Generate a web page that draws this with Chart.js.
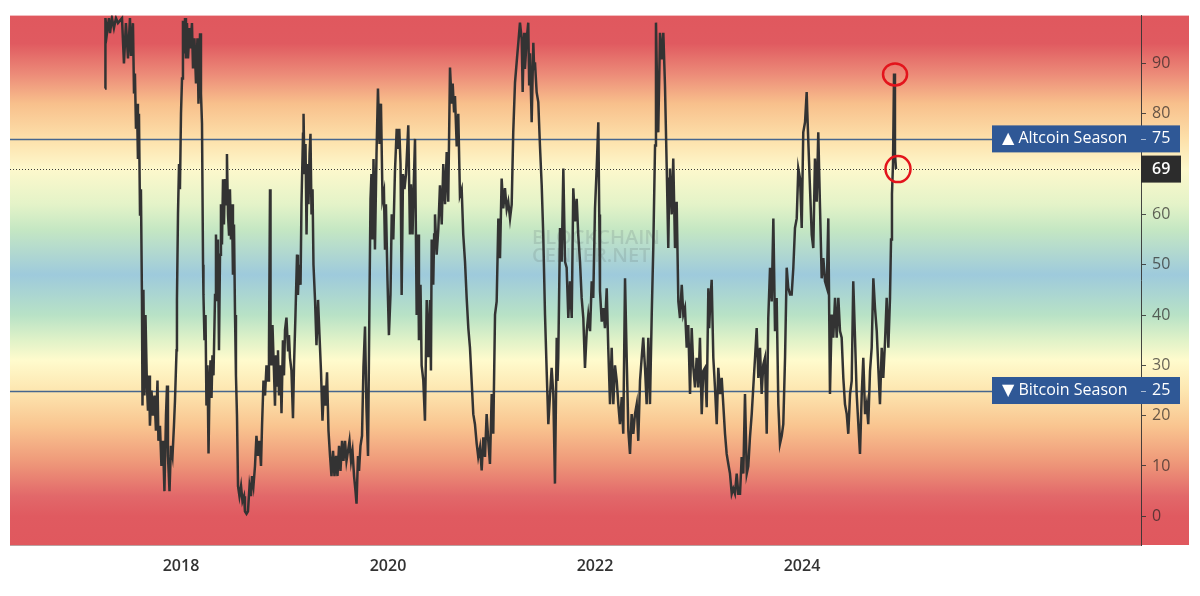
<!DOCTYPE html>
<html>
<head>
<meta charset="utf-8">
<script src="https://cdn.jsdelivr.net/npm/chart.js@4.4.0/dist/chart.umd.min.js"></script>
<style>
  html, body { margin: 0; padding: 0; background: #fff; }
  #wrap { width: 1200px; height: 596px; }
</style>
</head>
<body>
<div id="wrap"><canvas id="c" width="1200" height="596"></canvas></div>
<script>
// ---------------- DATA (decimal year, index value) ----------------
const dates2017_2019 = [
2017.266, 2017.270, 2017.285, 2017.304, 2017.314, 2017.333, 2017.352, 2017.372, 2017.391, 2017.430,
2017.449, 2017.468, 2017.488, 2017.507, 2017.517, 2017.536, 2017.546, 2017.555, 2017.565, 2017.575,
2017.584, 2017.594, 2017.604, 2017.613, 2017.623, 2017.628, 2017.637, 2017.647, 2017.657, 2017.671,
2017.681, 2017.691, 2017.700, 2017.715, 2017.729, 2017.744, 2017.758, 2017.773, 2017.782, 2017.797,
2017.811, 2017.826, 2017.840, 2017.855, 2017.865, 2017.874, 2017.889, 2017.903, 2017.918, 2017.932,
2017.942, 2017.957, 2017.961, 2017.971, 2017.981, 2017.990, 2018.000, 2018.010, 2018.019, 2018.029,
2018.039, 2018.048, 2018.058, 2018.068, 2018.082, 2018.092, 2018.106, 2018.116, 2018.130, 2018.145,
2018.159, 2018.169, 2018.184, 2018.193, 2018.203, 2018.213, 2018.217, 2018.227, 2018.237, 2018.246,
2018.256, 2018.266, 2018.275, 2018.285, 2018.295, 2018.304, 2018.314, 2018.329, 2018.338, 2018.348,
2018.357, 2018.367, 2018.377, 2018.386, 2018.396, 2018.406, 2018.415, 2018.425, 2018.435, 2018.444,
2018.454, 2018.464, 2018.473, 2018.483, 2018.493, 2018.502, 2018.512, 2018.522, 2018.531, 2018.541,
2018.551, 2018.565, 2018.580, 2018.594, 2018.609, 2018.618, 2018.633, 2018.647, 2018.662, 2018.676,
2018.686, 2018.700, 2018.715, 2018.729, 2018.744, 2018.758, 2018.773, 2018.783, 2018.797, 2018.812,
2018.826, 2018.841, 2018.850, 2018.860, 2018.865, 2018.874, 2018.884, 2018.898, 2018.908, 2018.918,
2018.928, 2018.937, 2018.947, 2018.961, 2018.971, 2018.985, 2018.995, 2019.005, 2019.019, 2019.034,
2019.043, 2019.053, 2019.067, 2019.082, 2019.092, 2019.106, 2019.121, 2019.130, 2019.140, 2019.155,
2019.164, 2019.179, 2019.184, 2019.193, 2019.203, 2019.213, 2019.222, 2019.232, 2019.242, 2019.251,
2019.261, 2019.271, 2019.280, 2019.295, 2019.309, 2019.324, 2019.338, 2019.353, 2019.367, 2019.382,
2019.396, 2019.411, 2019.425, 2019.440, 2019.454, 2019.469, 2019.483, 2019.498, 2019.512, 2019.527,
2019.541, 2019.556, 2019.570, 2019.585, 2019.599, 2019.614, 2019.628, 2019.643, 2019.657, 2019.672,
2019.686, 2019.696, 2019.710, 2019.720, 2019.734, 2019.749, 2019.763, 2019.778, 2019.792, 2019.807,
2019.821, 2019.831, 2019.840, 2019.850, 2019.860, 2019.874, 2019.889, 2019.903, 2019.918, 2019.932,
2019.947
];
const values2017_2019 = [
85, 99, 96, 99, 96, 99, 97, 99, 98, 99,
90, 98, 91, 99, 91.5, 98, 84, 88, 77, 82,
71, 80, 60, 65, 43, 22, 45, 24, 40, 26,
21, 28, 18, 25, 20, 24, 17, 27, 15, 18,
10, 15, 5, 20, 26, 12, 5, 14, 12, 18,
23, 33, 43, 60, 70, 65, 80, 87, 98.5, 92,
99, 91, 98, 91, 97, 93, 98, 89, 95, 86,
95, 82, 96, 84, 78, 50, 44, 35, 40, 22,
30, 12.5, 25, 31, 23.5, 32, 28, 44, 56, 43,
55, 33, 52, 62, 54, 67, 58, 67, 62, 72,
60, 56, 65, 55, 62, 48, 58, 40, 28, 20,
6, 4, 6, 3, 4, 1, 0.5, 1, 6, 4,
8, 6, 10, 16, 12, 15, 10, 18, 27, 24,
30, 27, 33, 65, 35, 30, 38, 29, 22, 32,
26, 33, 24, 30, 20.5, 35, 28, 37, 39.5, 33,
36, 31.5, 29, 19.5, 30, 40, 52, 44, 50, 46,
62, 76, 80, 68, 74, 56, 70, 62, 72, 76,
60, 65, 50, 43, 34, 43, 36, 28.6, 19, 26,
22, 28.6, 17, 12, 8, 13, 8, 12, 8, 14,
9, 15, 11, 15, 11, 13, 15, 11, 13, 8,
5, 2.5, 12, 9, 14, 16, 29.7, 37.7, 21.5, 12,
43, 63, 68, 55, 71, 53, 72, 85, 74, 82,
63
];
const dates2020_2024 = [
2019.961, 2019.971, 2019.980, 2019.995, 2020.009, 2020.024, 2020.036, 2020.051, 2020.067, 2020.084,
2020.096, 2020.109, 2020.121, 2020.132, 2020.145, 2020.159, 2020.174, 2020.196, 2020.212, 2020.222,
2020.237, 2020.246, 2020.261, 2020.277, 2020.290, 2020.299, 2020.314, 2020.325, 2020.341, 2020.357,
2020.374, 2020.389, 2020.406, 2020.415, 2020.422, 2020.437, 2020.446, 2020.454, 2020.470, 2020.486,
2020.502, 2020.519, 2020.534, 2020.551, 2020.567, 2020.582, 2020.599, 2020.615, 2020.625, 2020.638,
2020.647, 2020.664, 2020.679, 2020.695, 2020.712, 2020.727, 2020.744, 2020.760, 2020.776, 2020.792,
2020.808, 2020.824, 2020.840, 2020.857, 2020.872, 2020.889, 2020.905, 2020.921, 2020.937, 2020.953,
2020.969, 2020.985, 2021.002, 2021.017, 2021.034, 2021.050, 2021.066, 2021.082, 2021.098, 2021.114,
2021.130, 2021.147, 2021.162, 2021.179, 2021.195, 2021.210, 2021.227, 2021.243, 2021.251, 2021.259,
2021.275, 2021.292, 2021.301, 2021.307, 2021.316, 2021.323, 2021.340, 2021.355, 2021.364, 2021.372,
2021.388, 2021.404, 2021.412, 2021.420, 2021.436, 2021.452, 2021.468, 2021.485, 2021.500, 2021.517,
2021.533, 2021.549, 2021.565, 2021.581, 2021.597, 2021.613, 2021.630, 2021.638, 2021.645, 2021.662,
2021.678, 2021.694, 2021.710, 2021.726, 2021.742, 2021.758, 2021.775, 2021.790, 2021.807, 2021.823,
2021.838, 2021.855, 2021.871, 2021.887, 2021.903, 2021.920, 2021.935, 2021.952, 2021.968, 2021.983,
2022.000, 2022.016, 2022.032, 2022.041, 2022.048, 2022.065, 2022.080, 2022.096, 2022.113, 2022.128,
2022.145, 2022.161, 2022.177, 2022.193, 2022.210, 2022.225, 2022.241, 2022.258, 2022.273, 2022.290,
2022.306, 2022.322, 2022.338, 2022.354, 2022.370, 2022.386, 2022.403, 2022.418, 2022.435, 2022.451,
2022.466, 2022.483, 2022.499, 2022.515, 2022.531, 2022.548, 2022.563, 2022.580, 2022.589, 2022.601,
2022.611, 2022.628, 2022.644, 2022.660, 2022.676, 2022.693, 2022.708, 2022.718, 2022.724, 2022.741,
2022.756, 2022.773, 2022.789, 2022.805, 2022.821, 2022.838, 2022.853, 2022.869, 2022.886, 2022.901,
2022.918, 2022.934, 2022.950, 2022.966, 2022.982, 2022.998, 2023.014, 2023.031, 2023.046, 2023.063,
2023.079, 2023.095, 2023.103, 2023.111, 2023.127, 2023.143, 2023.159, 2023.176, 2023.191, 2023.208,
2023.224, 2023.239, 2023.256, 2023.272, 2023.288, 2023.304, 2023.321, 2023.336, 2023.352, 2023.369,
2023.384, 2023.401, 2023.417, 2023.433, 2023.449, 2023.466, 2023.481, 2023.497, 2023.514, 2023.529,
2023.546, 2023.562, 2023.578, 2023.594, 2023.610, 2023.626, 2023.642, 2023.659, 2023.674, 2023.691,
2023.707, 2023.723, 2023.739, 2023.755, 2023.771, 2023.787, 2023.804, 2023.819, 2023.836, 2023.852,
2023.867, 2023.884, 2023.900, 2023.916, 2023.932, 2023.949, 2023.964, 2023.981, 2023.997, 2024.012,
2024.029, 2024.045, 2024.051, 2024.061, 2024.077, 2024.094, 2024.109, 2024.125, 2024.142, 2024.157,
2024.174, 2024.190, 2024.206, 2024.222, 2024.239, 2024.254, 2024.270, 2024.287, 2024.302, 2024.319,
2024.335, 2024.351, 2024.367, 2024.383, 2024.399, 2024.415, 2024.432, 2024.447, 2024.464, 2024.480,
2024.495, 2024.512, 2024.528, 2024.544, 2024.560, 2024.577, 2024.592, 2024.609, 2024.625, 2024.640,
2024.657, 2024.673, 2024.689, 2024.705, 2024.722, 2024.737, 2024.753, 2024.770, 2024.785, 2024.802,
2024.818, 2024.834, 2024.850, 2024.860, 2024.869, 2024.879, 2024.889, 2024.898, 2024.908
];
const values2020_2024 = [
64.5, 53, 62, 47, 36, 44, 60, 55, 68.4, 77,
73, 77, 70, 44, 68, 65, 68, 77.7, 56, 66,
56, 64, 75, 40, 56, 35, 46, 30, 27, 19,
43, 31.6, 43, 29, 55, 46, 56, 60, 52, 57,
65.8, 58, 70, 62, 72.4, 62.5, 89.2, 82, 86, 80.5,
83.5, 73.5, 80, 63.8, 65, 56, 50.6, 43.4, 37.4, 33.5,
26.9, 20.3, 18.3, 14.4, 11.8, 13.7, 9.1, 15.7, 11.8, 20.3,
15, 10.4, 24.3, 16.4, 40.1, 42.7, 59.2, 51.3, 67.1, 61.2,
65.2, 61, 62.5, 59.2, 62, 76.3, 86.2, 90.2, 92.2, 94.1,
98.1, 94.8, 84.3, 90.2, 96.1, 88.9, 94.8, 98.1, 85.6, 92,
78.3, 94.1, 88.9, 90.2, 84.3, 82.3, 73.7, 65.8, 55.9, 40,
28.9, 18.3, 24, 29.5, 24.3, 6.5, 35.5, 26.9, 31.5, 57.3,
50.6, 69.1, 50.6, 49.4, 39.4, 46.7, 39.4, 65.2, 58.6, 63.1,
55.9, 50.6, 43.4, 39.4, 29.5, 36.8, 40, 36.8, 46.7, 43.4,
61.2, 69.1, 78.3, 60, 44.8, 38.7, 41.4, 37.4, 45.3, 33.5,
22.3, 33.5, 22.3, 30, 26.9, 22.3, 18.3, 23.7, 16.4, 47.3,
31.5, 17, 12.4, 20.3, 16.4, 20.3, 22.3, 15, 27, 31.5,
35.5, 29.5, 22.3, 35.5, 22.3, 40.1, 53.3, 73.7, 98.1, 84,
76.3, 96.1, 90.8, 96.1, 85.6, 69.1, 53.3, 67.1, 69.1, 60,
71.1, 53.3, 62.5, 42.7, 39.4, 46, 40.1, 41.4, 33.5, 38,
24.3, 37.4, 29.5, 25.6, 31.5, 25.6, 35.5, 20.3, 28.9, 29.5,
21.7, 45.3, 37.4, 41.4, 47, 31.5, 25.6, 18.3, 29.5, 24.3,
27.5, 22.3, 16.4, 12.4, 10.4, 8.5, 4.5, 5.5, 4.5, 8.5,
4.5, 4.5, 11.8, 8.5, 24.3, 8.5, 10, 15.7, 20.3, 25.6,
31.5, 37.4, 27.5, 33.5, 24.3, 30.2, 31.5, 16.4, 39.4, 49.4,
42.7, 59.2, 36.8, 43.4, 22.3, 14.4, 16, 18.3, 31.5, 49.4,
45.4, 44.1, 44.1, 49.4, 57.3, 59.2, 69.1, 67.1, 57.3, 76.3,
78.3, 84.3, 80.3, 74.4, 65.2, 55.9, 53.3, 71.1, 62.5, 76.3,
61.2, 47.3, 51.3, 46.7, 45.5, 59.2, 24.3, 40.1, 35.5, 43.4,
35.5, 43.4, 36.8, 35.5, 27.5, 22.3, 20.3, 16.4, 24.3, 26.9,
46.7, 35.5, 24.3, 18.3, 12.4, 24.3, 31.5, 20.3, 22.3, 18.3,
28.9, 33.5, 47.3, 41.4, 36.8, 29.5, 22.3, 33.5, 27.5, 34.8,
43.4, 33.5, 43.4, 55, 64, 70, 88, 72, 69
];
const yearTicks = [2018, 2020, 2022, 2024];
const valueTicks = [0, 10, 20, 30, 40, 50, 60, 70, 80, 90];
const seasonNames = ['\u25B2 Altcoin Season', '\u25BC Bitcoin Season'];
const seasonLevels = [75, 25];
const watermark = ['BLOCKCHAIN', 'CENTER.NET'];

// ---------------- STYLE ----------------
const dates = dates2017_2019.concat(dates2020_2024);
const values = values2017_2019.concat(values2020_2024);
const points = dates.map((d, i) => ({ x: d, y: values[i] }));
const lastIdx = values.length - 1;
let peakIdx = lastIdx;
for (let i = lastIdx; i > lastIdx - 8; i--) if (values[i] > values[peakIdx]) peakIdx = i;

const bandStops = [
  [100, '#e0585e'], [94, '#e05a60'], [88, '#ec8a78'], [82, '#f8c08c'],
  [75, '#fde0aa'], [69, '#fdf8cc'], [62, '#e4f3c8'], [57, '#c5e7c3'],
  [48, '#9ecadc'], [40, '#b8e2c6'], [35, '#e0f2c8'], [31, '#fffbcd'],
  [25, '#fde6b0'], [18, '#f9c590'], [11, '#ef9a7a'], [4, '#e2686a'],
  [0, '#e05a60'], [-6, '#e0585e']
];
const AXIS_W = 48;
const FONT = '"Open Sans", "DejaVu Sans", sans-serif';

const bgPlugin = {
  id: 'bg',
  beforeDraw(chart) {
    const { ctx, chartArea: a, scales: { y } } = chart;
    ctx.save();
    ctx.fillStyle = '#fff';
    ctx.fillRect(0, 0, chart.width, chart.height);
    const g = ctx.createLinearGradient(0, a.top, 0, a.bottom);
    bandStops.forEach(([v, c]) => {
      const p = (y.getPixelForValue(v) - a.top) / (a.bottom - a.top);
      g.addColorStop(Math.min(1, Math.max(0, p)), c);
    });
    ctx.fillStyle = g;
    ctx.fillRect(a.left, a.top, a.right - a.left + AXIS_W, a.bottom - a.top);
    ctx.restore();
  },
  beforeDatasetsDraw(chart) {
    const { ctx, chartArea: a, scales: { y } } = chart;
    ctx.save();
    // watermark
    ctx.font = '600 20px ' + FONT;
    ctx.fillStyle = 'rgba(105,125,125,0.22)';
    ctx.textBaseline = 'middle';
    ctx.textAlign = 'left';
    ctx.fillText(watermark[0], 532, 238);
    ctx.fillText(watermark[1], 532, 256);
    // season lines
    const boxLeft = a.right - 149;
    ctx.strokeStyle = 'rgba(60,95,140,0.95)';
    ctx.lineWidth = 1.5;
    seasonLevels.forEach(v => {
      const py = Math.round(y.getPixelForValue(v)) + 0.5;
      ctx.beginPath(); ctx.moveTo(a.left, py); ctx.lineTo(boxLeft, py); ctx.stroke();
    });
    // current value dotted line
    const cy = Math.round(y.getPixelForValue(values[lastIdx])) + 0.5;
    ctx.strokeStyle = 'rgba(40,40,40,0.9)';
    ctx.lineWidth = 1;
    ctx.setLineDash([1, 2]);
    ctx.beginPath(); ctx.moveTo(a.left, cy); ctx.lineTo(a.right, cy); ctx.stroke();
    ctx.restore();
  },
  afterDraw(chart) {
    const { ctx, chartArea: a, scales: { x, y } } = chart;
    ctx.save();
    const boxLeft = a.right - 149, boxRight = a.right + 39;
    ctx.textBaseline = 'middle';
    seasonLevels.forEach((v, i) => {
      const py = y.getPixelForValue(v);
      ctx.fillStyle = '#2f5896';
      ctx.fillRect(boxLeft, py - 13.5, boxRight - boxLeft, 27);
      ctx.fillStyle = '#fff';
      ctx.font = '16px ' + FONT;
      ctx.textAlign = 'left';
      ctx.fillText(seasonNames[i], boxLeft + 10, py);
      ctx.fillText(String(v), a.right + 11, py);
      ctx.strokeStyle = 'rgba(255,255,255,0.6)';
      ctx.lineWidth = 1;
      ctx.beginPath(); ctx.moveTo(a.right, Math.round(py) + 0.5); ctx.lineTo(a.right + 5, Math.round(py) + 0.5); ctx.stroke();
    });
    // current value box
    const cur = values[lastIdx];
    const cy = y.getPixelForValue(cur);
    ctx.fillStyle = '#2c2c2c';
    ctx.fillRect(a.right, cy - 13.5, 40, 27);
    ctx.fillStyle = '#fff';
    ctx.font = '600 16px ' + FONT;
    ctx.fillText(String(Math.round(cur)), a.right + 11, cy);
    // hand-drawn red circles
    ctx.strokeStyle = '#e3141c';
    ctx.lineWidth = 2.5;
    const px = x.getPixelForValue(dates[peakIdx]), pyk = y.getPixelForValue(values[peakIdx]);
    ctx.beginPath(); ctx.ellipse(px + 1, pyk + 1, 12, 11, 0, 0, Math.PI * 2); ctx.stroke();
    const lx = x.getPixelForValue(dates[lastIdx]), ly = y.getPixelForValue(cur);
    ctx.beginPath(); ctx.ellipse(lx + 2, ly, 12.5, 13, 0, 0, Math.PI * 2); ctx.stroke();
    ctx.restore();
  }
};

new Chart(document.getElementById('c'), {
  type: 'line',
  data: {
    datasets: [{
      data: points,
      borderColor: '#333333',
      borderWidth: 2.5,
      pointRadius: 0,
      tension: 0,
      fill: false
    }]
  },
  options: {
    responsive: false,
    animation: false,
    devicePixelRatio: 1,
    layout: { padding: { left: 10, top: 13, right: 11, bottom: 0 } },
    plugins: { legend: { display: false }, tooltip: { enabled: false } },
    scales: {
      x: {
        type: 'linear',
        min: 2016.348,
        max: 2027.275,
        afterBuildTicks: ax => { ax.ticks = yearTicks.map(v => ({ value: v })); },
        afterFit: ax => { ax.height = 51; },
        grid: { display: false, drawTicks: false },
        border: { display: true, color: 'rgba(120,70,70,0.5)' },
        ticks: {
          padding: 12,
          maxRotation: 0,
          color: '#333',
          font: { family: FONT, size: 16, weight: '600' },
          callback: v => String(v)
        }
      },
      y: {
        type: 'linear',
        position: 'right',
        min: -5.7,
        max: 99.5,
        afterBuildTicks: ax => { ax.ticks = valueTicks.map(v => ({ value: v })); },
        afterFit: ax => { ax.width = AXIS_W; },
        grid: { drawOnChartArea: false, drawTicks: true, tickLength: 5, color: 'rgba(50,50,50,0.85)' },
        border: { display: true, color: 'rgba(50,50,50,0.9)', width: 1 },
        ticks: {
          padding: 6,
          color: 'rgba(40,35,35,0.7)',
          font: { family: FONT, size: 16 },
          callback: v => String(v)
        }
      }
    }
  },
  plugins: [bgPlugin]
});
</script>
</body>
</html>
